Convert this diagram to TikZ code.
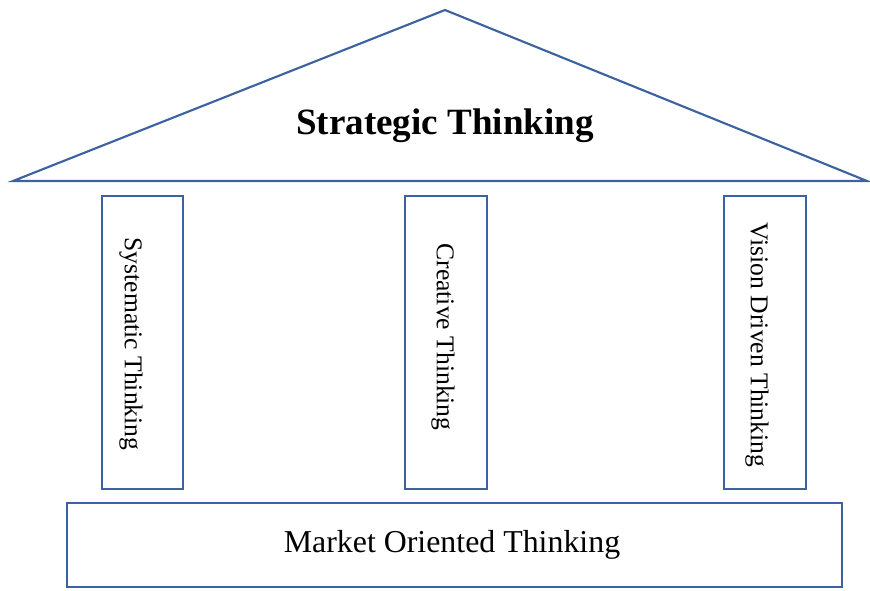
\documentclass[tikz,border=0pt]{standalone}
\usepackage{fontspec}
\setmainfont{Liberation Serif}
\usepackage{tikz}

\definecolor{pillarblue}{HTML}{3D62A0}

\begin{document}
\begin{tikzpicture}[x=0.75pt, y=-0.75pt,
    wall/.style={draw=pillarblue, line width=1.6pt, line join=miter},
    label/.style={inner sep=0pt, font=\fontsize{19.2}{22}\selectfont, rotate=-90}]
      \useasboundingbox (0,0) rectangle (870,590);
      % roof
      \draw[wall] (13,181) -- (445,10) -- (867,181) -- cycle;
      \node (roof) at (445,126) {\fontsize{27.8}{32}\selectfont\bfseries Strategic Thinking};
      % pillars
      \draw[wall] (102,196) rectangle (183,489);
      \draw[wall] (405,196) rectangle (487,489);
      \draw[wall] (724,196) rectangle (806,489);
      \node[label] (sys) at (131,344) {Systematic Thinking};
      \node[label] (cre) at (443,337) {Creative Thinking};
      \node[label] (vis) at (757,345) {Vision Driven Thinking};
      % base
      \draw[wall] (67,503) rectangle (842,587);
      \node (market) at (452,545) {\fontsize{23.9}{28}\selectfont Market Oriented Thinking};
  \end{tikzpicture}
\end{document}
